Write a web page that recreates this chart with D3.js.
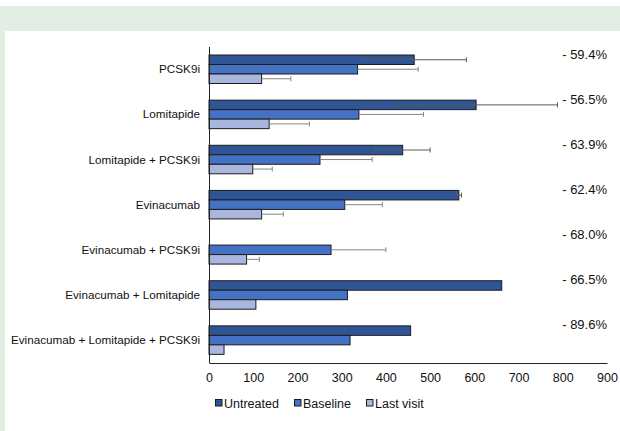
<!DOCTYPE html>
<html>
<head>
<meta charset="utf-8">
<script src="https://cdn.jsdelivr.net/npm/d3@7"></script>
<style>
  html, body { margin: 0; padding: 0; background: #fff; }
  svg { display: block; font-family: "Liberation Sans", Arial, sans-serif; }
</style>
</head>
<body>
<svg id="chart" width="620" height="431"></svg>
<script>
// Treatment groups, top to bottom
const categories = [
  "PCSK9i",
  "Lomitapide",
  "Lomitapide + PCSK9i",
  "Evinacumab",
  "Evinacumab + PCSK9i",
  "Evinacumab + Lomitapide",
  "Evinacumab + Lomitapide + PCSK9i"
];
const seriesNames = ["Untreated", "Baseline", "Last visit"];

// Mean values per group (null = no data)
const untreated = [464, 604, 438, 565, null, 662, 456];
const baseline  = [336, 339, 251, 307, 276, 313, 319];
const lastVisit = [119, 136, 99, 119, 85, 106, 34];

// Standard deviations (null = not reported)
const untreatedSD = [118, 184, 62, 6, null, null, null];
const baselineSD  = [137, 146, 118, 85, 124, null, null];
const lastVisitSD = [66, 91, 44, 49, 29, null, null];

// Reduction from baseline to last visit
const reductions = ["- 59.4%", "- 56.5%", "- 63.9%", "- 62.4%", "- 68.0%", "- 66.5%", "- 89.6%"];

const xTicks = [0, 100, 200, 300, 400, 500, 600, 700, 800, 900];

const colors = ["#2f5597", "#4472c4", "#a9b7de"];
const FONT = "'Liberation Sans', Arial, sans-serif";

const svg = d3.select("#chart");

// Page frame: pale green band on top and on the left
svg.append("rect").attr("x", 0).attr("y", 6).attr("width", 620).attr("height", 25).attr("fill", "#e2ede3");
svg.append("rect").attr("x", 0).attr("y", 6).attr("width", 5).attr("height", 425).attr("fill", "#e2ede3");

const x = d3.scaleLinear().domain([0, 900]).range([209, 607]);
const y = d3.scaleBand().domain(categories).range([47, 363]).padding(0);
const ySub = d3.scaleBand().domain(d3.range(3)).range([8, 36.5]).padding(0);

const seriesValues = [untreated, baseline, lastVisit];
const seriesSD = [untreatedSD, baselineSD, lastVisitSD];

const rows = categories.map((c, i) => ({
  cat: c,
  vals: seriesValues.map((s, k) => ({ k, v: s[i], sd: seriesSD[k][i] }))
}));

const g = svg.append("g");

const groups = g.selectAll("g.grp").data(rows).join("g")
  .attr("class", "grp")
  .attr("transform", d => `translate(0,${y(d.cat)})`);

groups.selectAll("rect.bar")
  .data(d => d.vals.filter(e => e.v != null))
  .join("rect")
  .attr("class", "bar")
  .attr("x", x(0))
  .attr("y", e => ySub(e.k))
  .attr("width", e => x(e.v) - x(0))
  .attr("height", ySub.bandwidth())
  .attr("fill", e => colors[e.k])
  .attr("stroke", "#1c1c1c")
  .attr("stroke-width", 1);

// Error bars: two-sided for untreated, upper side only for the others
const errs = groups.selectAll("g.err")
  .data(d => d.vals.filter(e => e.v != null && e.sd != null))
  .join("g")
  .attr("class", "err")
  .attr("stroke", e => e.k === 0 ? "#5a5a5a" : "#858585")
  .attr("stroke-width", 1);

errs.append("line")
  .attr("x1", e => e.k === 0 ? x(e.v - e.sd) : x(e.v))
  .attr("x2", e => x(e.v + e.sd))
  .attr("y1", e => ySub(e.k) + ySub.bandwidth() / 2)
  .attr("y2", e => ySub(e.k) + ySub.bandwidth() / 2);

errs.append("line")
  .attr("x1", e => x(e.v + e.sd)).attr("x2", e => x(e.v + e.sd))
  .attr("y1", e => ySub(e.k) + ySub.bandwidth() / 2 - 2.5)
  .attr("y2", e => ySub(e.k) + ySub.bandwidth() / 2 + 2.5);

errs.filter(e => e.k === 0).append("line")
  .attr("x1", e => x(e.v - e.sd)).attr("x2", e => x(e.v - e.sd))
  .attr("y1", e => ySub(e.k) + ySub.bandwidth() / 2 - 2.5)
  .attr("y2", e => ySub(e.k) + ySub.bandwidth() / 2 + 2.5);

// Reduction labels, right-aligned near the top of each group
groups.append("text")
  .attr("x", 607)
  .attr("y", 11.5)
  .attr("text-anchor", "end")
  .attr("font-size", 13)
  .attr("font-family", FONT)
  .attr("fill", "#111")
  .text((d, i) => reductions[i]);

// Category axis
const yAxis = d3.axisLeft(y).tickSize(0).tickPadding(9);
const yg = svg.append("g").attr("transform", `translate(${x(0)},0)`).call(yAxis);
yg.attr("font-family", FONT);
yg.select(".domain").attr("stroke", "#222").attr("d", `M0.5,${y.range()[0]}V${y.range()[1]}`);
yg.selectAll("text").attr("font-size", 11.7).attr("fill", "#111");

// Value axis
const xAxis = d3.axisBottom(x).tickValues(xTicks).tickSize(0).tickPadding(10).tickFormat(d3.format("d"));
const xg = svg.append("g").attr("transform", `translate(0,363)`).call(xAxis);
xg.attr("font-family", FONT);
xg.select(".domain").attr("stroke", "#222");
xg.selectAll("text").attr("font-size", 12.5).attr("fill", "#111");

// Legend
const legendX = [215, 294, 366];
const lg = svg.append("g").attr("font-family", FONT).selectAll("g").data(seriesNames).join("g")
  .attr("transform", (d, i) => `translate(${legendX[i]},399)`);
lg.append("rect").attr("x", 0.5).attr("y", 0.5).attr("width", 6.5).attr("height", 6.5)
  .attr("fill", (d, i) => colors[i]).attr("stroke", "#1c1c1c").attr("stroke-width", 1);
lg.append("text").attr("x", 9).attr("y", 8.5).attr("font-size", 12.5).attr("fill", "#111").text(d => d);
</script>
</body>
</html>
